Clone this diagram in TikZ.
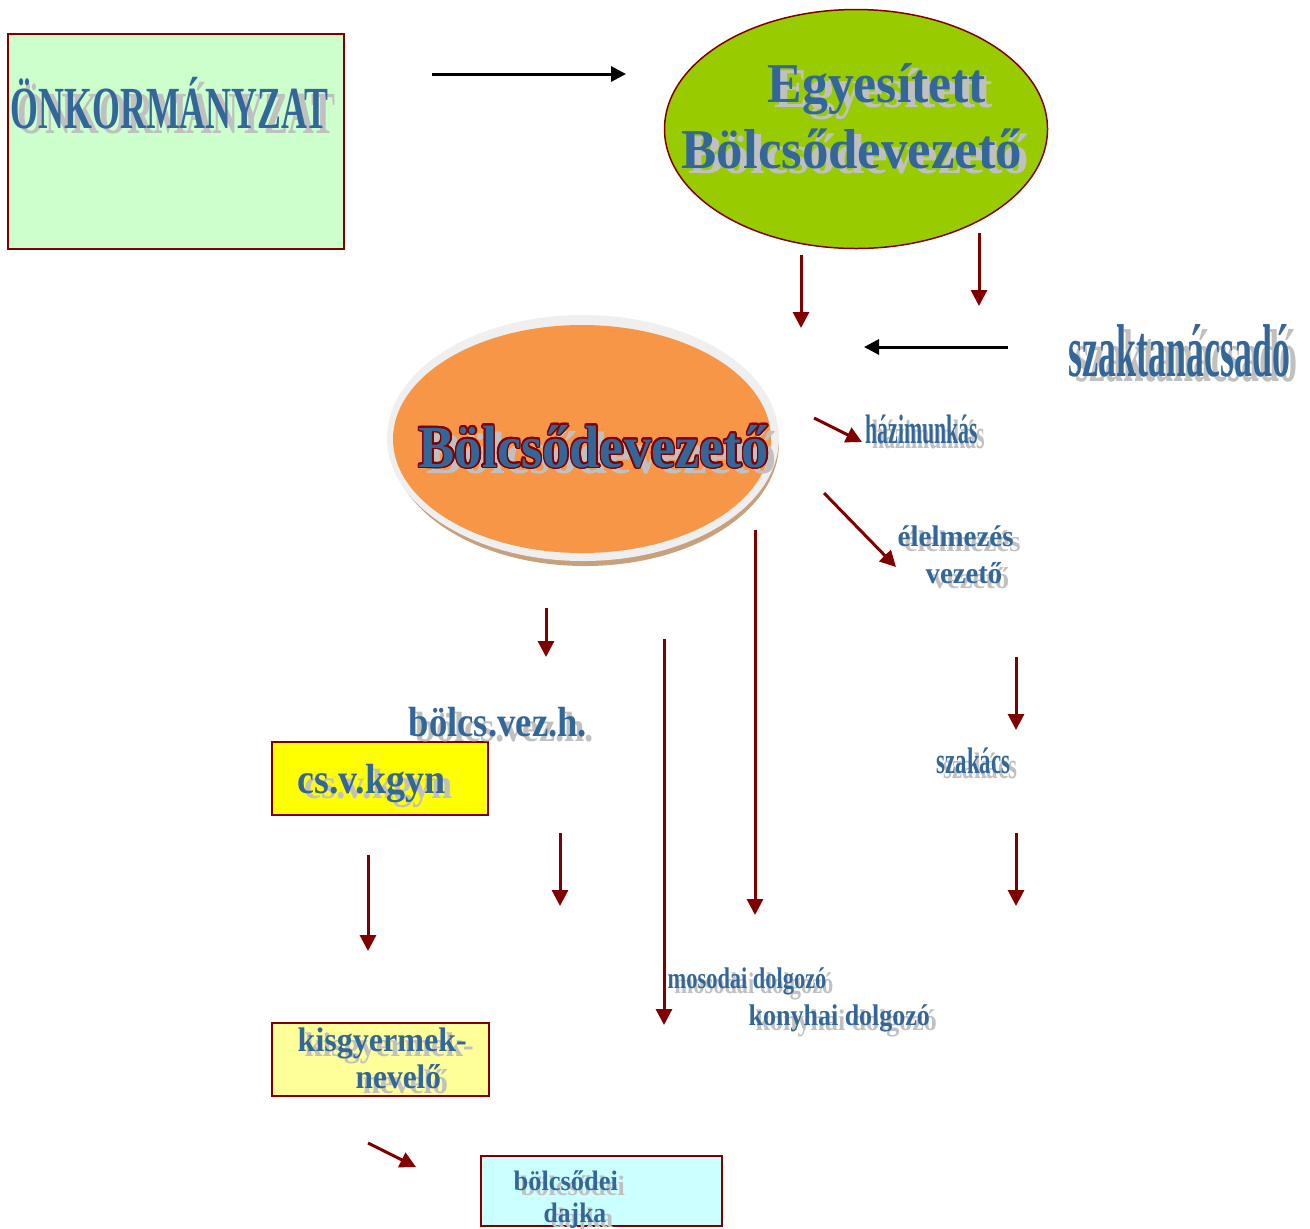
\documentclass[tikz,border=0pt]{standalone}
\usepackage{fontspec}
\setmainfont{Liberation Serif}
\usepackage{contour}
\usetikzlibrary{arrows.meta}
\definecolor{dred}{HTML}{800000}
\definecolor{lblue}{HTML}{336699}
\definecolor{shgray}{HTML}{C0C0C0}
\definecolor{onkfill}{HTML}{CCFFCC}
\definecolor{egyfill}{HTML}{99CC00}
\definecolor{bvfill}{HTML}{F79646}
\definecolor{bvrim}{HTML}{EFEFEF}
\definecolor{bvtan}{HTML}{C9A07C}
\definecolor{csfill}{HTML}{FFFF00}
\definecolor{kisfill}{HTML}{FFFF99}
\definecolor{dajfill}{HTML}{CCFFFF}
\contourlength{0.45pt}
% name, x, baseline y, size, xscale, text
\def\lbl(#1)(#2,#3)[#4][#5]#6{%
  \node[shade txt, font=\fontsize{#4}{#4}\selectfont\bfseries] (#1-sh) at ({#2+7},{#3+5}) {\scalebox{#5}[1]{#6}};
  \node[main txt, font=\fontsize{#4}{#4}\selectfont\bfseries] (#1) at (#2,#3) {\scalebox{#5}[1]{#6}};}

\begin{document}
\begin{tikzpicture}[x=0.1mm, y=-0.1mm,
    main txt/.style={anchor=base west, inner sep=0pt, text=lblue},
    shade txt/.style={anchor=base west, inner sep=0pt, text=shgray},
    red arr/.style={dred, line width=0.3mm, -{Triangle[length=1.6mm,width=1.6mm]}},
    blk arr/.style={black, line width=0.3mm, -{Triangle[length=1.5mm,width=1.5mm]}},
    box/.style={draw=dred, line width=0.2mm}]
	\useasboundingbox (0,0) rectangle (1310,1228);
	%%%%% SHAPES %%%%%
	\draw[box, fill=onkfill] (8,34) rectangle (344,249);
	\draw[dred, line width=0.15mm, fill=egyfill] (856,129) ellipse (191.5 and 119.5);
	
	\fill[bvtan] (585,443) ellipse (194 and 123);
	\fill[bvrim] (583,438) ellipse (196 and 123);
	\fill[bvfill] (582,439) ellipse (189 and 114);
	
	\draw[box, fill=csfill] (272,742) rectangle (488,815);
	\draw[box, fill=kisfill] (272,1023) rectangle (489,1096);
	\draw[box, fill=dajfill] (481,1156) rectangle (722,1226);
	
	%%%%% TEXTS %%%%%
	\lbl(onk)(10,128)[17][0.6]{ÖNKORMÁNYZAT}
	\lbl(egy1)(767,102)[16][0.92]{Egyesített}
	\lbl(egy2)(681,168)[16][0.94]{Bölcsődevezető}
	\node[shade txt, font=\fontsize{17}{17}\selectfont\bfseries] (bv-sh) at (426,473) {\scalebox{0.91}[1]{Bölcsődevezető}};
	\node[main txt, font=\fontsize{17}{17}\selectfont\bfseries] (bv) at (418,467) {\scalebox{0.91}[1]{\contour{dred}{Bölcsődevezető}}};
	\lbl(szt)(1068,376)[21.3][0.48]{szaktanácsadó}
	\lbl(hm)(865,443)[11.7][0.53]{házimunkás}
	\lbl(el1)(897,546)[8.5][0.97]{élelmezés}
	\lbl(el2)(925,583)[8.5][0.96]{vezető}
	\lbl(bvh)(408,736)[12][0.87]{bölcs.vez.h.}
	\lbl(csv)(297,793)[12][0.9]{cs.v.kgyn}
	\lbl(szk)(936,773)[10.5][0.62]{szakács}
	\lbl(mos)(667,988)[8.5][0.75]{mosodai dolgozó}
	\lbl(kon)(748,1025)[8.5][0.87]{konyhai dolgozó}
	\lbl(kis1)(297,1051)[9.7][0.94]{kisgyermek-}
	\lbl(kis2)(355,1088)[9.7][0.92]{nevelő}
	\lbl(daj1)(513,1190)[8][0.94]{bölcsődei}
	\lbl(daj2)(543,1222)[8][0.91]{dajka}
	
	%%%%% ARROWS %%%%%
	\coordinate (onk-s) at (432,74);   \coordinate (onk-e) at (626,74);
	\coordinate (szt-s) at (1008,347); \coordinate (szt-e) at (864,347);
	\draw[blk arr] (onk-s) -- (onk-e);
	\draw[blk arr] (szt-s) -- (szt-e);
	\foreach \n/\xa/\ya/\xb/\yb in {ev1/801/255/801/328, ev2/979/233/979/306,
	    hm/814/418/862/442, el/824/493/896/567, bvh/546/608/546/657,
	    mos/664/639/664/1025, kon/755/530/755/915, bv2/560/833/560/906,
	    cs/368/855/368/951, sz1/1016/657/1016/730, sz2/1016/833/1016/906,
	    kn/368/1143/416/1167}{
	  \coordinate (\n-s) at (\xa,\ya);
	  \coordinate (\n-e) at (\xb,\yb);
	  \draw[red arr] (\n-s) -- (\n-e);
	}
\end{tikzpicture}
\end{document}
